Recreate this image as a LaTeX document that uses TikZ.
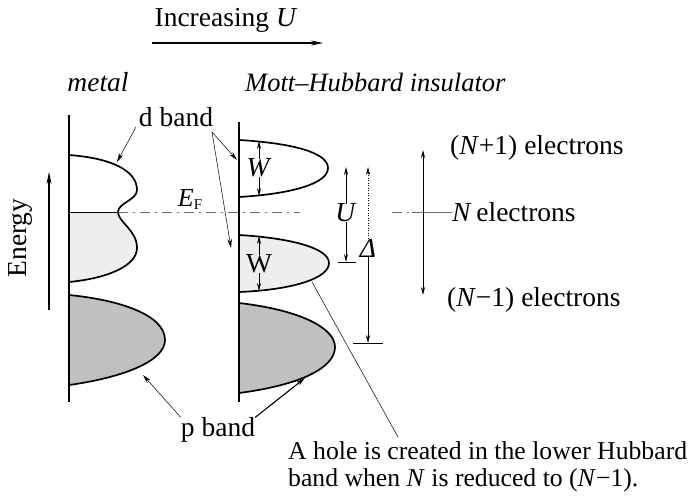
\documentclass[tikz,border=0pt]{standalone}
\usepackage{fontspec}
\setmainfont{Liberation Serif}
\usetikzlibrary{arrows.meta}
\definecolor{pfill}{RGB}{192,192,192}
\definecolor{lfill}{RGB}{238,238,238}
\definecolor{efline}{RGB}{110,110,110}
\begin{document}
\begin{tikzpicture}[x=1pt,y=-1pt,
  bandline/.style={line width=1.7pt},
  axisline/.style={line width=1.3pt},
  thinarr/.style={line width=0.5pt,-{Stealth[length=9pt,width=4.5pt]}},
  midarr/.style={line width=0.8pt,-{Stealth[length=9pt,width=4.5pt]}},
  dblarr/.style={line width=0.8pt,{Stealth[length=8pt,width=4pt]}-{Stealth[length=8pt,width=4pt]}},
  halfarr/.style={line width=0.8pt,-{Stealth[length=8pt,width=4pt]}},
  lbl/.style={inner sep=0pt,font=\fontsize{27.5}{30}\selectfont},
  small/.style={inner sep=0pt,font=\fontsize{25.7}{27}\selectfont},
  efdash/.style={line width=0.8pt,efline,dash pattern=on 10pt off 5pt on 2pt off 5pt}]
\useasboundingbox (0,0) rectangle (694,499);

% ---- title arrow
\node[lbl] (incr) at (226,20) {Increasing \textit{U}};
\coordinate (iuA) at (152,43);
\coordinate (iuB) at (323,43);
\draw[line width=1.2pt,-{Stealth[length=12pt,width=5pt]}] (iuA) -- (iuB);

\node[lbl] (metal) at (98,82) {\textit{metal}};
\node[lbl,anchor=west,font=\fontsize{26.5}{30}\selectfont] (mott) at (245,82) {\textit{Mott–Hubbard insulator}};

% ---- Energy
\node[lbl,rotate=90] (energy) at (20,238) {Energy};
\coordinate (enA) at (49,310);
\coordinate (enB) at (49,172);
\draw[line width=1.3pt,-{Stealth[length=12pt,width=5pt]}] (enA) -- (enB);

% ---- metal bands
\fill[lfill] (69,212) -- (118,212) .. controls (118,222) and (137,230) .. (137,248)
   .. controls (137,265) and (110,278) .. (69,282) -- cycle;
\draw[bandline] (69,155) .. controls (110,158) and (137,170) .. (137,190)
   .. controls (137,200) and (118,203) .. (118,212)
   .. controls (118,222) and (137,230) .. (137,248)
   .. controls (137,265) and (110,278) .. (69,282);
\draw[line width=1pt] (69,212) -- (118,212);
\filldraw[bandline,fill=pfill] (69,295) .. controls (120,300) and (165,315) .. (165,340)
   .. controls (165,362) and (120,378) .. (69,385);
\draw[axisline] (69,115) -- (69,402);

% ---- Mott bands
\draw[bandline] (239,140) .. controls (290,143) and (328,152) .. (328,168)
   .. controls (328,184) and (290,194) .. (239,197);
\filldraw[bandline,fill=lfill] (239,235) .. controls (290,238) and (329,248) .. (329,263)
   .. controls (329,279) and (290,290) .. (239,292);
\filldraw[bandline,fill=pfill] (239,303) .. controls (300,310) and (335,328) .. (335,347)
   .. controls (335,368) and (300,385) .. (239,393);
\draw[axisline] (239,122) -- (239,402);

% ---- Fermi level lines
\node[inner sep=0pt,font=\fontsize{26}{28}\selectfont] (ef) at (190,199) {\textit{E}\raisebox{-3pt}{\fontsize{15}{15}\selectfont F}};
\draw[efdash] (118,212) -- (300,212);
\node[lbl,anchor=west] (nel) at (452,212) {\textit{N}\,electrons};
\coordinate (nlA) at (392,212);
\coordinate (nlB) at (412,212);
\draw[efdash] (nlA) -- (nlB);
\draw[line width=0.8pt,efline] (nlB) -- (nel.west);

% ---- W arrows
\node[lbl] (w1) at (259,168) {\textit{W}};
\coordinate (w1t) at (259,141);
\coordinate (w1b) at (259,196);
\draw[halfarr] (w1.north) -- (w1t);
\draw[halfarr] (w1.south) -- (w1b);
\node[lbl] (w2) at (259,264) {W};
\coordinate (w2t) at (259,236);
\coordinate (w2b) at (259,291);
\draw[halfarr] (w2.north) -- (w2t);
\draw[halfarr] (w2.south) -- (w2b);

% ---- U arrow
\node[lbl] (ulab) at (346,213) {\textit{U}};
\coordinate (ut) at (346,167);
\coordinate (ub) at (346,262);
\draw[halfarr] (ulab.north) -- (ut);
\draw[halfarr] (ulab.south) -- (ub);
\coordinate (ubarA) at (338,262);
\coordinate (ubarB) at (356,262);
\draw[line width=0.8pt] (ubarA) -- (ubarB);

% ---- Delta arrow
\node[lbl] (dlab) at (368,248) {\textit{Δ}};
\coordinate (dt) at (368,167);
\coordinate (db) at (368,343);
\draw[line width=0.6pt,dash pattern=on 1pt off 1.5pt,-{Stealth[length=8pt,width=4pt]}] (dlab.north) -- (dt);
\draw[line width=0.6pt,-{Stealth[length=8pt,width=4pt]}] (dlab.south) -- (db);
\coordinate (dbarA) at (353,343);
\coordinate (dbarB) at (383,343);
\draw[line width=0.8pt] (dbarA) -- (dbarB);

% ---- right electron arrow
\coordinate (rt) at (423,150);
\coordinate (rb) at (423,295);
\draw[dblarr] (rb) -- (rt);
\node[lbl,anchor=west] (np1) at (450,148) {(\textit{N}+1) electrons};
\node[lbl,anchor=west] (nm1) at (447,300) {(\textit{N}−1) electrons};

% ---- d band labels
\node[lbl] (dband) at (176,117) {d band};
\coordinate (dtipA) at (117,162);
\coordinate (dtipB) at (237,160);
\coordinate (dtipC) at (231,248);
\draw[thinarr] ([shift={(-40,10)}]dband.center) -- (dtipA);
\draw[thinarr] ([shift={(36,15)}]dband.center) -- (dtipB);
\draw[thinarr] ([shift={(36,15)}]dband.center) -- (dtipC);

% ---- p band labels
\node[lbl] (pband) at (218,430) {p band};
\coordinate (ptipA) at (143,375);
\coordinate (ptipB) at (305,378);
\draw[thinarr] (pband.north west) -- (ptipA);
\draw[midarr,line width=1.1pt] (pband.north east) -- (ptipB);

% ---- hole annotation
\node[small,anchor=north west,align=left] (hole) at (288,441)
  {A hole is created in the lower Hubbard\\band when \textit{N} is reduced to (\textit{N}−1).};
\coordinate (holeA) at (312,282);
\coordinate (holeB) at (398,437);
\draw[line width=0.5pt] (holeA) -- (holeB);
\end{tikzpicture}
\end{document}
